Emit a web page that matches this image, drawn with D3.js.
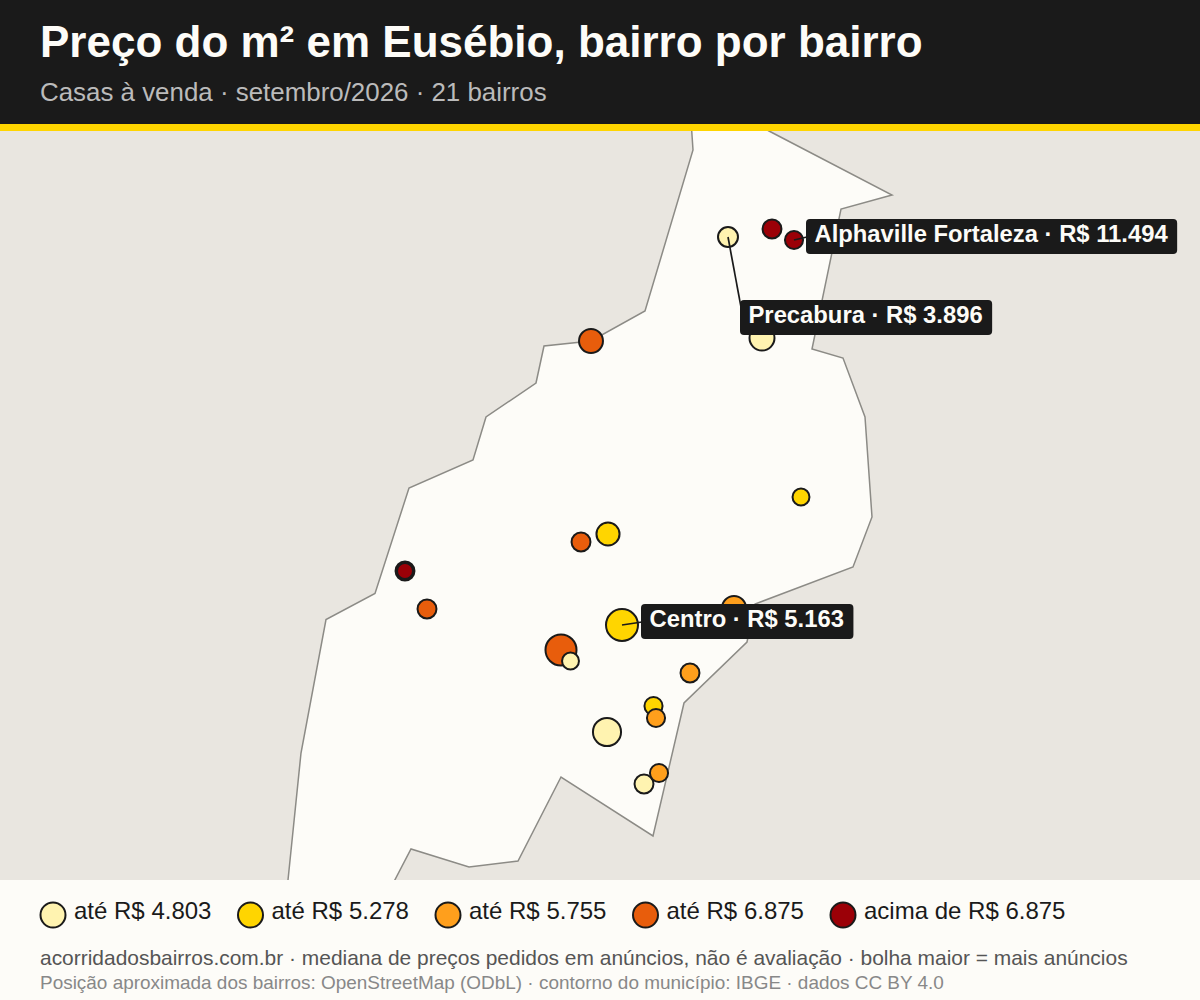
<!DOCTYPE html>
<html lang="pt-BR">
<head>
<meta charset="utf-8">
<title>Preço do m² em Eusébio</title>
<script src="https://cdn.jsdelivr.net/npm/d3@7"></script>
<style>
  html, body { margin: 0; padding: 0; background: #fdfcf8; }
  svg { display: block; font-family: "Liberation Sans", Arial, sans-serif; }
</style>
</head>
<body>
<div id="chart"></div>
<script>
// bairros (prices of unlabelled ones are estimated from their colour class)
var lons = [-38.4238, -38.4272, -38.4228, -38.4206, -38.4409, -38.4199, -38.4392, -38.4419, -38.4595, -38.4595, -38.4573, -38.4266, -38.4378, -38.4439, -38.44295, -38.4310, -38.43465, -38.4344, -38.4393, -38.4356, -38.4341];
var lats = [-3.8508, -3.8407, -3.8399, -3.8410, -3.8511, -3.8667, -3.8704, -3.8712, -3.8741, -3.8741, -3.8779, -3.8778, -3.8795, -3.8820, -3.8831, -3.8843, -3.8876, -3.8888, -3.8902, -3.8954, -3.8943];
var prices = [4500, 3896, 8200, 11494, 6300, 5100, 5200, 6200, 7800, 7400, 6500, 5500, 5163, 6100, 4600, 5600, 5000, 5650, 4400, 4700, 5450];
var listings = [61, 39, 35, 32, 56, 28, 52, 35, 35, 25, 35, 56, 100, 94, 28, 35, 32, 32, 77, 35, 32];

// municipality outline
var outlineLons = [-38.4309, -38.4307, -38.4355, -38.4409, -38.4456, -38.4464, -38.4514, -38.4527, -38.4591, -38.4625, -38.4674, -38.4699, -38.4712, -38.4713, -38.4613, -38.4589, -38.4531, -38.4482, -38.4439, -38.4347, -38.4316, -38.4253, -38.4245, -38.4147, -38.4128, -38.4135, -38.4157, -38.4188, -38.4159, -38.4108, -38.4231, -38.4249];
var outlineLats = [-3.8290, -3.8320, -3.8481, -3.8511, -3.8516, -3.8553, -3.8587, -3.8630, -3.8658, -3.87635, -3.87895, -3.8923, -3.9050, -3.9065, -3.9065, -3.9019, -3.9037, -3.9031, -3.8947, -3.9006, -3.8873, -3.8812, -3.8774, -3.8737, -3.8687, -3.8587, -3.8528, -3.8519, -3.8379, -3.8365, -3.8301, -3.8290];

// price classes
var breaks = [4803, 5278, 5755, 6875];
var classColors = ["#fff3b0", "#ffd500", "#ff9f1c", "#e85d0c", "#9b0007"];
var legendLabels = ["até R$ 4.803", "até R$ 5.278", "até R$ 5.755", "até R$ 6.875", "acima de R$ 6.875"];

// highlighted bairros
var calloutNames = ["Alphaville Fortaleza", "Precabura", "Centro"];
var calloutPoints = [3, 1, 12];

var svgWidth = 1200;
var svgHeight = 1000;

var x = d3.scaleLinear().domain([-38.5, -38.38]).range([0, 1200]);
var y = d3.scaleLinear().domain([-3.83, -3.90]).range([130, 830]);
var radius = d3.scaleSqrt().domain([0, 100]).range([0, 16]);
var color = d3.scaleThreshold().domain(breaks).range(classColors);

var svg = d3.select("#chart").append("svg")
  .attr("width", svgWidth)
  .attr("height", svgHeight);

// map background and municipality
svg.append("rect")
  .attr("width", svgWidth)
  .attr("height", svgHeight)
  .attr("fill", "#e9e6e0");

var outline = d3.line()
  .x(d => x(d[0]))
  .y(d => y(d[1]))
  .curve(d3.curveLinearClosed);

svg.append("path")
  .attr("d", outline(d3.zip(outlineLons, outlineLats)))
  .attr("fill", "#fdfcf8")
  .attr("stroke", "#8c8b86")
  .attr("stroke-width", 1.5);

// bubbles
svg.append("g").selectAll("circle")
  .data(d3.range(lons.length))
  .enter()
  .append("circle")
  .attr("cx", i => x(lons[i]))
  .attr("cy", i => y(lats[i]))
  .attr("r", i => radius(listings[i]))
  .attr("fill", i => color(prices[i]))
  .attr("stroke", "#1a1a1a")
  .attr("stroke-width", 2);

// callouts: box offset from the bubble centre
var calloutDx = [12, 12, 19];
var calloutDy = [-21, 63, -21];
var fmt = d3.format(",d");
var priceText = v => "R$ " + fmt(v).replace(",", ".");

calloutNames.forEach(function(name, k) {
  var p = calloutPoints[k];
  var px = x(lons[p]);
  var py = y(lats[p]);
  var boxX = px + calloutDx[k];
  var boxY = py + calloutDy[k];

  var group = svg.append("g");
  var label = group.append("text")
    .attr("x", boxX + 8.5)
    .attr("y", boxY + 23)
    .attr("font-size", 23.8)
    .attr("font-weight", 700)
    .attr("fill", "#fdfcf8")
    .text(name + " · " + priceText(prices[p]));

  var textWidth = label.node().getComputedTextLength();

  group.insert("rect", "text")
    .attr("x", boxX)
    .attr("y", boxY)
    .attr("width", textWidth + 18)
    .attr("height", 35)
    .attr("rx", 4)
    .attr("fill", "#1a1a1a");

  group.insert("line", "rect")
    .attr("x1", px)
    .attr("y1", py)
    .attr("x2", boxX + 1)
    .attr("y2", boxY + 18 * (calloutDy[k] < 0 ? 1 : 0.4))
    .attr("stroke", "#1a1a1a")
    .attr("stroke-width", 1.7);
});

// header
svg.append("rect")
  .attr("width", svgWidth)
  .attr("height", 124)
  .attr("fill", "#1a1a1a");

svg.append("rect")
  .attr("y", 124)
  .attr("width", svgWidth)
  .attr("height", 7)
  .attr("fill", "#ffd500");

svg.append("text")
  .attr("x", 40)
  .attr("y", 57)
  .attr("font-size", 44)
  .attr("font-weight", 700)
  .attr("fill", "#fdfcf8")
  .text("Preço do m² em Eusébio, bairro por bairro");

svg.append("text")
  .attr("x", 40)
  .attr("y", 101)
  .attr("font-size", 25.9)
  .attr("fill", "#bbbbbb")
  .text("Casas à venda · setembro/2026 · 21 bairros");

// footer and legend
svg.append("rect")
  .attr("y", 880)
  .attr("width", svgWidth)
  .attr("height", 120)
  .attr("fill", "#fdfcf8");

var legend = svg.append("g").selectAll("g")
  .data(legendLabels)
  .enter()
  .append("g")
  .attr("transform", (d, i) => `translate(${53 + i * 197.5}, 915)`);

legend.append("circle")
  .attr("r", 12.5)
  .attr("fill", (d, i) => classColors[i])
  .attr("stroke", "#1a1a1a")
  .attr("stroke-width", 2);

legend.append("text")
  .attr("x", 21)
  .attr("y", 4)
  .attr("font-size", 24)
  .attr("fill", "#1a1a1a")
  .text(d => d);

svg.append("text")
  .attr("x", 40)
  .attr("y", 965)
  .attr("font-size", 20.95)
  .attr("fill", "#555555")
  .text("acorridadosbairros.com.br · mediana de preços pedidos em anúncios, não é avaliação · bolha maior = mais anúncios");

svg.append("text")
  .attr("x", 40)
  .attr("y", 989)
  .attr("font-size", 18.95)
  .attr("fill", "#888888")
  .text("Posição aproximada dos bairros: OpenStreetMap (ODbL) · contorno do município: IBGE · dados CC BY 4.0");
</script>
</body>
</html>
